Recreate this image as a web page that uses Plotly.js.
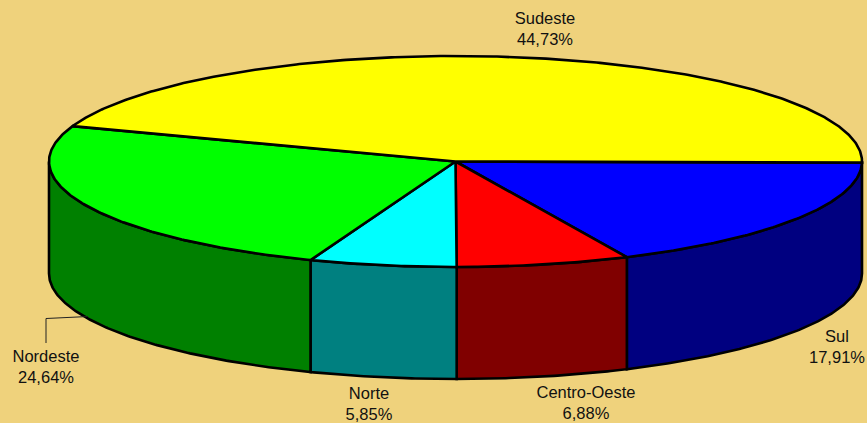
<!DOCTYPE html>
<html>
<head>
<meta charset="utf-8">
<script src="https://cdn.plot.ly/plotly-3.0.1.min.js"></script>
<style>html,body{margin:0;padding:0;background:#EFD27C}#c{width:867px;height:423px}</style>
</head>
<body>
<div id="c"></div>
<script>
// Data, in drawing order (clockwise on screen from the right-hand edge)
var regions = ["Sul", "Centro-Oeste", "Norte", "Nordeste", "Sudeste"];
var shares = [17.91, 6.88, 5.85, 24.64, 44.73];
var topColors = ["#0000FF", "#FF0000", "#00FFFF", "#00FF00", "#FFFF00"];
var sideColors = ["#000080", "#800000", "#008080", "#008000", "#808000"];

// Pie geometry in the chart's axis units
var cx = 455.5, cy = 161.5, rx = 406.5, ry = 105.5, depth = 112, startDeg = 0.6;
// Label anchors: centre x and y of the first line
var labelX = [837, 586, 369, 46, 545];
var labelY = [338, 394, 395, 358, 20];
var lineGap = 21;
var leaderX = [46, 46, 88], leaderY = [343, 318.5, 316.5];

function pt(deg, dy) {
  var a = deg * Math.PI / 180;
  return [cx + rx * Math.cos(a), cy + ry * Math.sin(a) + (dy || 0)];
}
function arc(a0, a1, dy) {
  var n = Math.max(2, Math.ceil(Math.abs(a1 - a0) * 2)), out = [];
  for (var i = 0; i <= n; i++) out.push(pt(a0 + (a1 - a0) * i / n, dy));
  return out;
}
function poly(points, fill) {
  return {
    type: "scatter", mode: "lines", hoverinfo: "skip", showlegend: false,
    x: points.map(function (p) { return p[0]; }),
    y: points.map(function (p) { return p[1]; }),
    fill: "toself", fillcolor: fill,
    line: { color: "#000000", width: 2.6 }
  };
}

var total = shares.reduce(function (a, b) { return a + b; }, 0);
var traces = [], tops = [], angle = startDeg;
shares.forEach(function (v, i) {
  var a0 = angle, a1 = angle + v / total * 360;
  angle = a1;
  // side wall: only the front half of the rim (0-180 degrees) is visible
  var s0 = i === 0 ? 0 : a0, s1 = Math.min(a1, 180);
  if (s0 < 180) {
    var wall = arc(s0, s1, 0).concat(arc(s1, s0, depth));
    wall.push(wall[0]);
    traces.push(poly(wall, sideColors[i]));
  }
  var top = [[cx, cy]].concat(arc(a0, a1, 0));
  top.push([cx, cy]);
  tops.push(poly(top, topColors[i]));
});
traces = traces.concat(tops);

traces.push({
  type: "scatter", mode: "lines", hoverinfo: "skip", showlegend: false,
  x: leaderX, y: leaderY, line: { color: "#222222", width: 1 }
});

var tx = [], ty = [], tt = [];
regions.forEach(function (r, i) {
  tx.push(labelX[i], labelX[i]);
  ty.push(labelY[i], labelY[i] + lineGap);
  tt.push(r, shares[i].toFixed(2).replace(".", ",") + "%");
});
traces.push({
  type: "scatter", mode: "text", hoverinfo: "skip", showlegend: false,
  x: tx, y: ty, text: tt, textposition: "middle center",
  textfont: { family: "Liberation Sans, Arial, sans-serif", size: 16.5, color: "#111111" },
  cliponaxis: false
});

var hidden = { visible: false, fixedrange: true };
var layout = {
  width: 867, height: 423,
  margin: { l: 0, r: 0, t: 0, b: 0 },
  paper_bgcolor: "#EFD27C", plot_bgcolor: "#EFD27C",
  xaxis: Object.assign({ range: [0, 867] }, hidden),
  yaxis: Object.assign({ range: [423, 0] }, hidden),
  showlegend: false
};
Plotly.newPlot("c", traces, layout, { displayModeBar: false, staticPlot: true });
</script>
</body>
</html>
